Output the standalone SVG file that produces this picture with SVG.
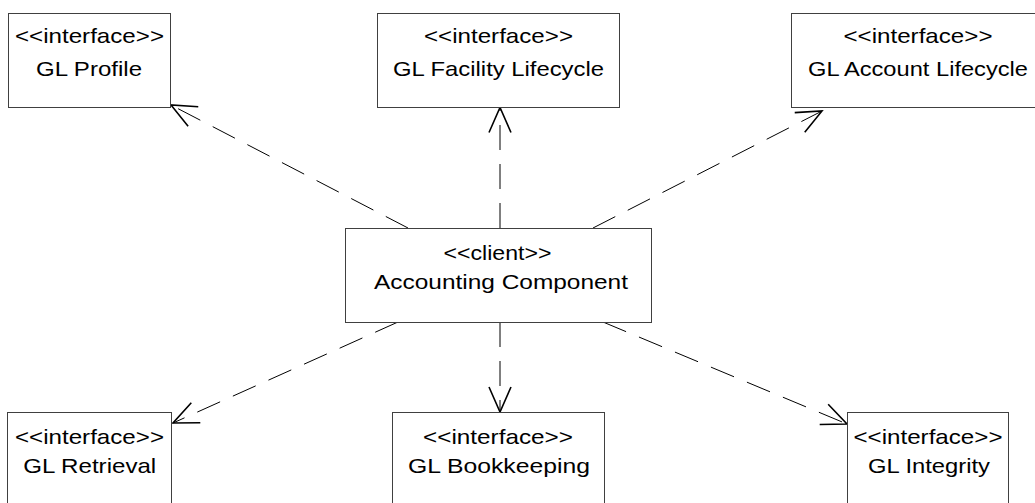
<svg xmlns="http://www.w3.org/2000/svg" width="1035" height="503" viewBox="0 0 1035 503">
<style>
.box{fill:#fff;stroke:#404040;stroke-width:1}
.t{font-family:"Liberation Sans",Arial,sans-serif;font-size:21px;fill:#000;text-anchor:middle}
.c{fill:none;stroke:#000;stroke-width:1;stroke-dasharray:25 14}
</style>
<defs>
<marker id="arr" markerUnits="userSpaceOnUse" markerWidth="40" markerHeight="40" refX="0" refY="0" viewBox="-30 -20 40 40" orient="auto" overflow="visible">
<path d="M-25,-11 L0,0 L-25,11" fill="none" stroke="#000" stroke-width="1.6"/>
</marker>
</defs>
<rect width="1035" height="503" fill="#fff"/>
<g id="connectors">
<path class="c" d="M408,228 L171,105" marker-end="url(#arr)"/>
<path class="c" d="M500,228 L500,107.5" marker-end="url(#arr)"/>
<path class="c" d="M593,228 L822,111" marker-end="url(#arr)"/>
<path class="c" d="M398,322 L173,423" marker-end="url(#arr)"/>
<path class="c" d="M500,322 L500,412" marker-end="url(#arr)"/>
<path class="c" d="M603,322 L847,424" marker-end="url(#arr)"/>
</g>
<g id="gl-profile">
<rect class="box" x="8.5" y="13.5" width="162" height="94"/>
<text class="t" x="89.5" y="43" textLength="149" lengthAdjust="spacingAndGlyphs">&lt;&lt;interface&gt;&gt;</text>
<text class="t" x="89" y="75.5" textLength="106" lengthAdjust="spacingAndGlyphs">GL Profile</text>
</g>
<g id="gl-facility-lifecycle">
<rect class="box" x="377.5" y="13.5" width="242" height="94"/>
<text class="t" x="498.5" y="43" textLength="149" lengthAdjust="spacingAndGlyphs">&lt;&lt;interface&gt;&gt;</text>
<text class="t" x="498.5" y="75.5" textLength="211" lengthAdjust="spacingAndGlyphs">GL Facility Lifecycle</text>
</g>
<g id="gl-account-lifecycle">
<rect class="box" x="791.5" y="13.5" width="254" height="94"/>
<text class="t" x="918" y="43" textLength="149" lengthAdjust="spacingAndGlyphs">&lt;&lt;interface&gt;&gt;</text>
<text class="t" x="918" y="75.5" textLength="220" lengthAdjust="spacingAndGlyphs">GL Account Lifecycle</text>
</g>
<g id="accounting-component">
<rect class="box" x="345.5" y="228.5" width="306" height="94"/>
<text class="t" x="497.5" y="259.5" textLength="108" lengthAdjust="spacingAndGlyphs">&lt;&lt;client&gt;&gt;</text>
<text class="t" x="501" y="288.5" textLength="254" lengthAdjust="spacingAndGlyphs">Accounting Component</text>
</g>
<g id="gl-retrieval">
<rect class="box" x="7.5" y="412.5" width="164" height="100"/>
<text class="t" x="89.5" y="443.5" textLength="149" lengthAdjust="spacingAndGlyphs">&lt;&lt;interface&gt;&gt;</text>
<text class="t" x="89.7" y="472.5" textLength="133" lengthAdjust="spacingAndGlyphs">GL Retrieval</text>
</g>
<g id="gl-bookkeeping">
<rect class="box" x="392.5" y="412.5" width="212" height="100"/>
<text class="t" x="498" y="443.5" textLength="150" lengthAdjust="spacingAndGlyphs">&lt;&lt;interface&gt;&gt;</text>
<text class="t" x="499" y="472.5" textLength="182" lengthAdjust="spacingAndGlyphs">GL Bookkeeping</text>
</g>
<g id="gl-integrity">
<rect class="box" x="847.5" y="412.5" width="161" height="100"/>
<text class="t" x="928" y="443.5" textLength="149" lengthAdjust="spacingAndGlyphs">&lt;&lt;interface&gt;&gt;</text>
<text class="t" x="929" y="472.5" textLength="122" lengthAdjust="spacingAndGlyphs">GL Integrity</text>
</g>
</svg>
